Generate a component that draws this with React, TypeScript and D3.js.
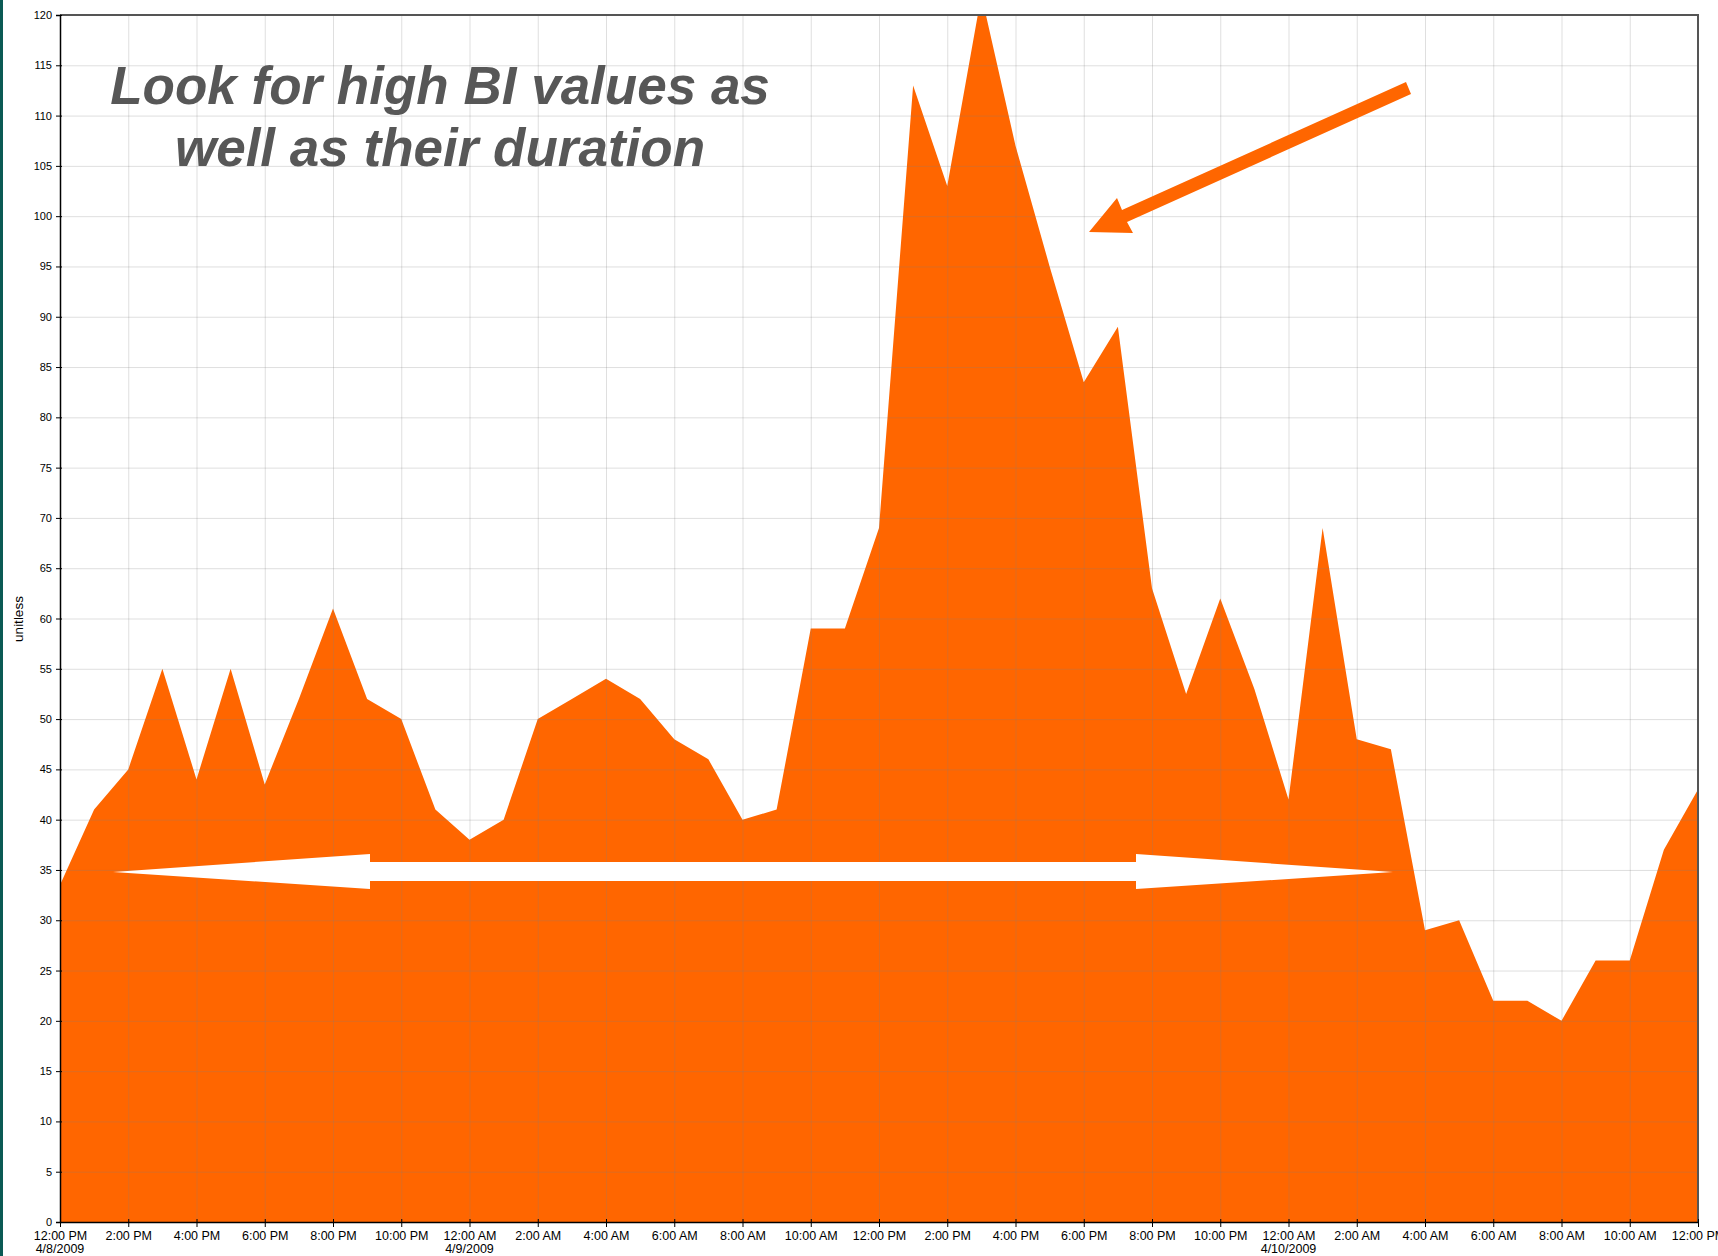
import { useEffect, useRef } from "react";
import * as d3 from "d3";

// hourly BI readings starting 4/8/2009 12:00 PM
const startTime = Date.UTC(2009, 3, 8, 12);
const hourOffsets = [
    0, 1, 2, 3, 4, 5, 6, 7, 8, 9, 10, 11, 12, 13, 14, 15, 16, 17, 18, 19, 20, 21, 22, 23, 24,
    25, 26, 27, 28, 29, 30, 31, 32, 33, 34, 35, 36, 37, 38, 39, 40, 41, 42, 43, 44, 45, 46, 47, 48,
];
const biValues = [
    33.5, 41, 45, 55, 44, 55, 43.5, 52, 61, 52, 50, 41, 38, 40, 50, 52, 54, 52, 48, 46, 40, 41, 59, 59, 69,
    113, 103, 122, 107, 95, 83.5, 89, 63, 52.5, 62, 53, 42, 69, 48, 47, 29, 30, 22, 22, 20, 26, 26, 37, 43,
];
const yTickValues = [0, 5, 10, 15, 20, 25, 30, 35, 40, 45, 50, 55, 60, 65, 70, 75, 80, 85, 90, 95, 100, 105, 110, 115, 120];
const dateLabelHours = [0, 12, 36];
const dateLabelText = ["4/8/2009", "4/9/2009", "4/10/2009"];
const titleLines = ["Look for high BI values as", "well as their duration"];
const yAxisTitle = "unitless";

export default function App() {
    const svgRef = useRef<SVGSVGElement | null>(null);

    useEffect(() => {
        const width = 1718;
        const height = 1256;
        const marginTop = 15;
        const marginRight = 20;
        const marginBottom = 34;
        const marginLeft = 60;
        const font = "'Liberation Sans', Arial, sans-serif";

        const data = hourOffsets.map((h, i) => ({
            date: new Date(startTime + h * 3600 * 1000),
            value: biValues[i],
        }));

        const x = d3.scaleUtc()
            .domain([new Date(startTime), new Date(startTime + 48 * 3600 * 1000)])
            .range([marginLeft, width - marginRight]);

        const y = d3.scaleLinear()
            .domain([0, 120])
            .range([height - marginBottom, marginTop]);

        const svg = d3.select(svgRef.current)
            .attr("width", width)
            .attr("height", height)
            .attr("viewBox", [0, 0, width, height].join(" "));
        svg.selectAll("*").remove();

        svg.append("rect").attr("width", width).attr("height", height).attr("fill", "#fff");
        // dark teal strip on the left edge
        svg.append("rect").attr("x", 0).attr("y", 0).attr("width", 3).attr("height", height).attr("fill", "#0b5a54");

        svg.append("clipPath").attr("id", "plot-clip")
            .append("rect")
            .attr("x", marginLeft).attr("y", marginTop)
            .attr("width", width - marginLeft - marginRight)
            .attr("height", height - marginTop - marginBottom);

        const area = d3.area<{ date: Date; value: number }>()
            .x(d => x(d.date))
            .y0(y(0))
            .y1(d => y(d.value));

        svg.append("path")
            .datum(data)
            .attr("clip-path", "url(#plot-clip)")
            .attr("fill", "#ff6600")
            .attr("d", area);

        // grid on top of the fill
        const hourTicks = x.ticks(d3.utcHour.every(2)!);
        const grid = svg.append("g").attr("stroke", "#808080").attr("stroke-opacity", 0.25).attr("stroke-width", 1);
        grid.selectAll("line.v")
            .data(hourTicks)
            .join("line")
            .attr("class", "v")
            .attr("x1", d => x(d) + 0.5).attr("x2", d => x(d) + 0.5)
            .attr("y1", marginTop).attr("y2", height - marginBottom);
        grid.selectAll("line.h")
            .data(yTickValues)
            .join("line")
            .attr("class", "h")
            .attr("x1", marginLeft).attr("x2", width - marginRight)
            .attr("y1", d => y(d) + 0.5).attr("y2", d => y(d) + 0.5);

        // frame: top and right in gray
        svg.append("path")
            .attr("d", `M${marginLeft},${marginTop}H${width - marginRight}V${height - marginBottom}`)
            .attr("fill", "none")
            .attr("stroke", "#555")
            .attr("stroke-width", 2);

        // y axis
        const yAxis = svg.append("g")
            .attr("transform", `translate(${marginLeft},0)`)
            .call(d3.axisLeft(y).tickValues(yTickValues).tickSize(4).tickPadding(4))
            .call(g => g.select(".domain").attr("stroke", "#000").attr("stroke-width", 1.5));
        yAxis.selectAll(".tick line").attr("x1", 2).attr("stroke", "#000");
        yAxis.selectAll(".tick text")
            .attr("font-family", font)
            .attr("font-size", 11)
            .attr("fill", "#000");

        // x axis
        const xAxis = svg.append("g")
            .attr("transform", `translate(0,${height - marginBottom})`)
            .call(d3.axisBottom(x)
                .tickValues(hourTicks)
                .tickFormat(d => d3.utcFormat("%-I:%M %p")(d as Date))
                .tickSize(5)
                .tickSizeOuter(0)
                .tickPadding(3))
            .call(g => g.select(".domain").attr("stroke", "#000").attr("stroke-width", 1.5));
        xAxis.selectAll(".tick line").attr("y1", -3).attr("stroke", "#000");
        xAxis.selectAll(".tick text")
            .attr("font-family", font)
            .attr("font-size", 12.5)
            .attr("fill", "#000")
            .attr("dy", null)
            .attr("y", 18);

        svg.append("g")
            .selectAll("text")
            .data(dateLabelHours)
            .join("text")
            .attr("x", h => x(new Date(startTime + h * 3600 * 1000)))
            .attr("y", height - marginBottom + 31)
            .attr("text-anchor", "middle")
            .attr("font-family", font)
            .attr("font-size", 12.5)
            .text((_, i) => dateLabelText[i]);

        svg.append("text")
            .attr("transform", `translate(23,619) rotate(-90)`)
            .attr("text-anchor", "middle")
            .attr("font-family", font)
            .attr("font-size", 13.5)
            .text(yAxisTitle);

        // annotation text
        svg.append("g")
            .selectAll("text")
            .data(titleLines)
            .join("text")
            .attr("x", 440)
            .attr("y", (_, i) => 104 + i * 62)
            .attr("text-anchor", "middle")
            .attr("font-family", font)
            .attr("font-weight", "bold")
            .attr("font-style", "italic")
            .attr("font-size", 53)
            .attr("fill", "#575757")
            .text(d => d);

        // orange arrow pointing at the peak
        svg.append("polygon")
            .attr("fill", "#ff6600")
            .attr("points", [
                [1406, 82], [1411, 94], [1127, 222], [1133, 233], [1089, 232],
                [1117, 198], [1122, 210],
            ].map(p => p.join(",")).join(" "));

        // white double arrow showing duration
        svg.append("polygon")
            .attr("fill", "#fff")
            .attr("points", [
                [113, 872], [370, 854], [370, 862], [1136, 862], [1136, 854], [1393, 872],
                [1136, 889], [1136, 881], [370, 881], [370, 889],
            ].map(p => p.join(",")).join(" "));
    }, []);

    return (
        <svg ref={svgRef} style={{ position: "absolute", left: 0, top: 0, display: "block" }} />
    );
}
